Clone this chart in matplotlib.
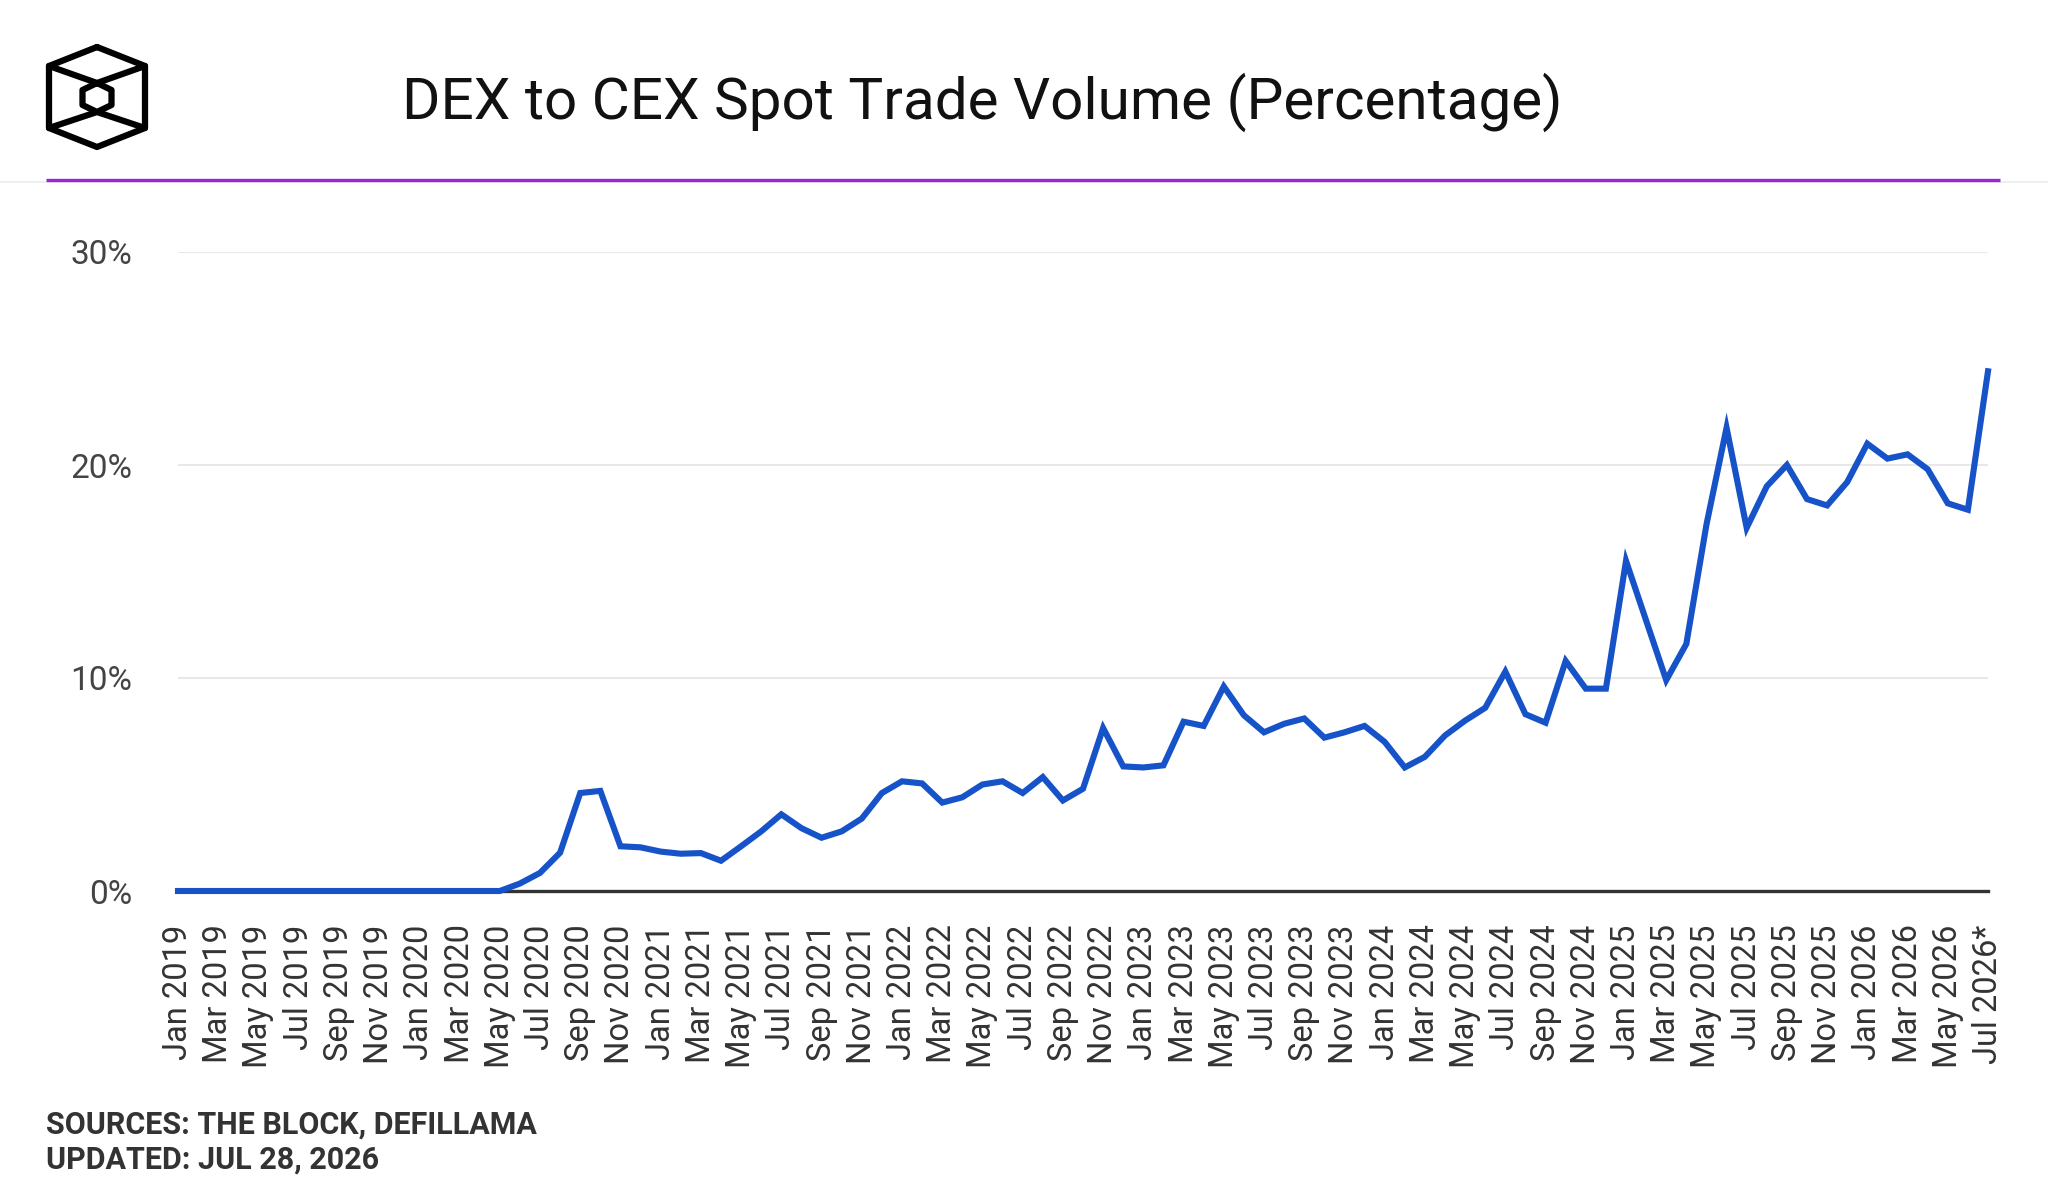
import matplotlib
matplotlib.use("Agg")
import matplotlib.pyplot as plt

# monthly DEX/CEX spot volume ratio in %, Jan 2019 .. Jul 2026
values = [
    0, 0, 0, 0, 0, 0, 0, 0, 0, 0, 0, 0,                                  # 2019
    0, 0, 0, 0, 0, 0.35, 0.85, 1.8, 4.6, 4.7, 2.1, 2.05,                 # 2020
    1.85, 1.75, 1.78, 1.42, 2.1, 2.8, 3.6, 2.95, 2.5, 2.8, 3.4, 4.6,     # 2021
    5.15, 5.05, 4.15, 4.4, 5.0, 5.15, 4.6, 5.35, 4.25, 4.8, 7.65, 5.85,  # 2022
    5.8, 5.9, 7.95, 7.75, 9.6, 8.25, 7.45, 7.85, 8.1, 7.2, 7.45, 7.75,   # 2023
    7.0, 5.8, 6.3, 7.3, 8.0, 8.6, 10.3, 8.3, 7.9, 10.8, 9.5, 9.5,        # 2024
    15.5, 12.7, 9.9, 11.6, 17.2, 21.75, 17.05, 19.0, 20.0, 18.4, 18.1, 19.2,  # 2025
    21.0, 20.3, 20.5, 19.8, 18.2, 17.9, 24.4,                            # 2026
]
tick_labels = [
    'Jan 2019', 'Mar 2019', 'May 2019', 'Jul 2019', 'Sep 2019', 'Nov 2019',
    'Jan 2020', 'Mar 2020', 'May 2020', 'Jul 2020', 'Sep 2020', 'Nov 2020',
    'Jan 2021', 'Mar 2021', 'May 2021', 'Jul 2021', 'Sep 2021', 'Nov 2021',
    'Jan 2022', 'Mar 2022', 'May 2022', 'Jul 2022', 'Sep 2022', 'Nov 2022',
    'Jan 2023', 'Mar 2023', 'May 2023', 'Jul 2023', 'Sep 2023', 'Nov 2023',
    'Jan 2024', 'Mar 2024', 'May 2024', 'Jul 2024', 'Sep 2024', 'Nov 2024',
    'Jan 2025', 'Mar 2025', 'May 2025', 'Jul 2025', 'Sep 2025', 'Nov 2025',
    'Jan 2026', 'Mar 2026', 'May 2026', 'Jul 2026*',
]
y_ticks = [0, 10, 20, 30]
title = 'DEX to CEX Spot Trade Volume (Percentage)'

plt.rcParams['font.family'] = ['Roboto', 'DejaVu Sans']

W, H = 2048, 1194
fig = plt.figure(figsize=(W / 100, H / 100), dpi=100)

# decorations drawn in pixel coordinates
deco = fig.add_axes([0, 0, 1, 1])
deco.set_xlim(0, W)
deco.set_ylim(H, 0)
deco.axis('off')

deco.plot([0, W], [182, 182], color='#ececec', lw=1.2)
deco.plot([46, 2000], [180, 180], color='#9d22d8', lw=2.4, solid_capstyle='butt')

# logo (cube)
lk = dict(color='black', lw=4.5, solid_joinstyle='round', solid_capstyle='round')
deco.plot([97, 145, 145, 97, 49, 49, 97], [47, 66, 128, 147, 128, 66, 47], **lk)
deco.plot([49, 97, 145], [66, 83, 66], **lk)
deco.plot([49, 97, 145], [128, 112, 128], **lk)
deco.plot([97, 111.5, 111.5, 97, 82.5, 82.5, 97], [83, 90, 105, 112, 105, 90, 83], **lk)

deco.text(982, 102, title, ha='center', va='center', fontsize=42, color='#111111')
deco.text(46, 1125, 'SOURCES: THE BLOCK, DEFILLAMA', ha='left', va='center',
          fontsize=22, fontweight='bold', color='#333333')
deco.text(46, 1160, 'UPDATED: JUL 28, 2026', ha='left', va='center',
          fontsize=22, fontweight='bold', color='#333333')

# main chart
ax = fig.add_axes([178 / W, 1 - 891 / H, (1988 - 178) / W, (891 - 252) / H])
ax.set_facecolor('none')
x = list(range(len(values)))
ax.plot(x, values, color='#1652c8', lw=4.4, solid_joinstyle='miter', clip_on=False, zorder=3)
ax.axhline(0, color='#333333', lw=2.4, clip_on=False, zorder=2)

ax.set_xlim(0, len(values) - 1)
ax.set_ylim(0, 30)
ax.set_yticks(y_ticks)
ax.set_yticklabels([f'{v}%' for v in y_ticks], fontsize=24, color='#444444',
                   va='center_baseline')
ax.set_xticks(x[::2])
ax.set_xticklabels(tick_labels, rotation=90, fontsize=23.5, color='#333333')
ax.tick_params(axis='y', length=0, pad=33)
ax.tick_params(axis='x', length=0, pad=24)
ax.yaxis.grid(True, color='#e8e8e8', lw=1.5)
ax.set_axisbelow(True)
for s in ax.spines.values():
    s.set_visible(False)

fig.savefig('out.png', dpi=100)
